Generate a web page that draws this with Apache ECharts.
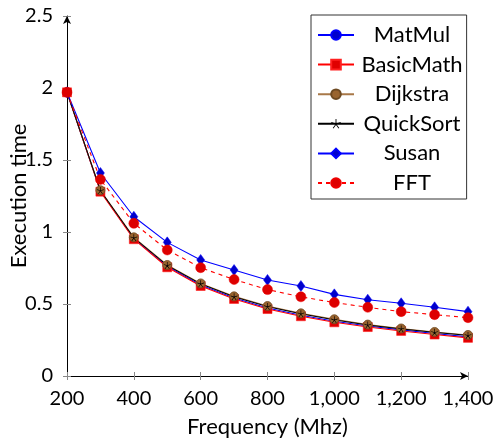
<!DOCTYPE html>
<html>
<head>
<meta charset="utf-8">
<script src="https://cdn.jsdelivr.net/npm/echarts@6/dist/echarts.min.js"></script>
<style>html,body{margin:0;padding:0;background:#fff;}#c{width:495px;height:443px;}</style>
</head>
<body>
<div id="c"></div>
<script>
const frequencies = [200,300,400,500,600,700,800,900,1000,1100,1200,1300,1400];
const matMul    = [1.97,1.285,0.955,0.762,0.632,0.542,0.472,0.422,0.380,0.347,0.320,0.295,0.272];
const basicMath = [1.97,1.280,0.950,0.755,0.625,0.535,0.465,0.415,0.373,0.340,0.313,0.288,0.265];
const dijkstra  = [1.97,1.290,0.963,0.771,0.643,0.553,0.486,0.435,0.394,0.357,0.330,0.306,0.285];
const quickSort = [1.97,1.288,0.960,0.768,0.640,0.550,0.482,0.432,0.390,0.354,0.327,0.303,0.282];
const susan     = [1.97,1.410,1.106,0.928,0.806,0.736,0.667,0.625,0.567,0.530,0.505,0.477,0.447];
const fft       = [1.97,1.365,1.060,0.875,0.752,0.670,0.600,0.550,0.510,0.477,0.447,0.426,0.405];
const seriesNames = ['MatMul','BasicMath','Dijkstra','QuickSort','Susan','FFT'];
const yTicks = [0,0.5,1,1.5,2,2.5];

const FONT = 'Lato';
function pairs(vals){ return frequencies.map((f,i)=>[f,vals[i]]); }

// asterisk star path (5 spokes)
function starPath(){
  let d = '';
  const w = 0.09;
  for (let k=0;k<5;k++){
    const a = -Math.PI/2 + k*2*Math.PI/5;
    const cx = Math.cos(a), cy = Math.sin(a);
    const px = -Math.sin(a)*w, py = Math.cos(a)*w;
    const pts = [[px,py],[cx+px,cy+py],[cx-px,cy-py],[-px,-py]];
    d += 'M' + pts.map(p=>(p[0]*10+10).toFixed(2)+' '+(p[1]*10+10).toFixed(2)).join(' L') + ' Z ';
  }
  return 'path://' + d;
}

const chart = echarts.init(document.getElementById('c'), null, {renderer:'canvas'});
const base = {type:'line', smooth:false, showSymbol:true, animation:false};
chart.setOption({
  animation:false,
  grid:{left:67, right:27, top:16, bottom:67, containLabel:false, outerBoundsMode:'none'},
  xAxis:[{
    type:'value', min:200, max:1400, interval:200,
    name:'Frequency (Mhz)', nameLocation:'middle', nameGap:40, nameMoveOverlap:false,
    nameTextStyle:{fontFamily:FONT, fontSize:22, color:'#000'},
    axisLine:{show:true, lineStyle:{color:'#000', width:1}, symbol:['none','arrow'], symbolSize:[6,8]},
    axisTick:{show:true, inside:false, length:4, lineStyle:{color:'#888'}},
    axisLabel:{fontFamily:FONT, fontSize:20, color:'#000', margin:13,
      formatter:v=>v.toLocaleString('en-US')},
    splitLine:{show:false}
  },{
    type:'value', min:200, max:1400, interval:200, position:'bottom',
    axisLine:{show:false}, axisLabel:{show:false}, splitLine:{show:false},
    axisTick:{show:true, inside:true, length:4, lineStyle:{color:'#888'}}
  }],
  yAxis:[{
    type:'value', min:yTicks[0], max:yTicks[yTicks.length-1], interval:0.5,
    name:'Execution time', nameLocation:'middle', nameGap:37, nameMoveOverlap:false,
    nameTextStyle:{fontFamily:FONT, fontSize:22, color:'#000'},
    axisLine:{show:true, lineStyle:{color:'#000', width:1}, symbol:['none','arrow'], symbolSize:[6,8]},
    axisTick:{show:true, inside:false, length:4, lineStyle:{color:'#888'}},
    axisLabel:{fontFamily:FONT, fontSize:20, color:'#000', margin:14},
    splitLine:{show:false}
  },{
    type:'value', min:0, max:2.5, interval:0.5, position:'left',
    axisLine:{show:false}, axisLabel:{show:false}, splitLine:{show:false},
    axisTick:{show:true, inside:true, length:4, lineStyle:{color:'#888'}}
  }],
  legend:{
    orient:'vertical', left:311, top:15,
    padding:[9,4,5,6], itemGap:7.6, itemWidth:36, itemHeight:12,
    backgroundColor:'#fff', borderColor:'#333', borderWidth:1,
    selectedMode:false,
    data:seriesNames,
    formatter:n=>'{a|'+n+'}',
    textStyle:{fontFamily:FONT, fontSize:22, color:'#000',
      rich:{a:{width:106, align:'center', fontFamily:FONT, fontSize:22, color:'#000'}}},
    itemTextGap:2
  },
  series:[
    Object.assign({}, base, {name:'MatMul', data:pairs(matMul), symbol:'circle', symbolSize:8,
      lineStyle:{color:'#0000ff', width:1.1}, itemStyle:{color:'#0000cc', borderColor:'#0000ff', borderWidth:0.6}}),
    Object.assign({}, base, {name:'BasicMath', data:pairs(basicMath), symbol:'rect', symbolSize:9,
      lineStyle:{color:'#ff0000', width:1.1}, itemStyle:{color:'#e00000', borderColor:'#ff2020', borderWidth:0.6}}),
    Object.assign({}, base, {name:'Dijkstra', data:pairs(dijkstra), symbol:'circle', symbolSize:9,
      lineStyle:{color:'#a87848', width:1.1}, itemStyle:{color:'#99642f', borderColor:'#6e4a22', borderWidth:0.8}}),
    Object.assign({}, base, {name:'QuickSort', data:pairs(quickSort), symbol:starPath(), symbolSize:7,
      lineStyle:{color:'#000', width:1}, itemStyle:{color:'#000'}}),
    Object.assign({}, base, {name:'Susan', data:pairs(susan), symbol:'diamond', symbolSize:[8,11],
      lineStyle:{color:'#0000ff', width:1.1}, itemStyle:{color:'#0000cc', borderColor:'#0000ff', borderWidth:0.5}}),
    Object.assign({}, base, {name:'FFT', data:pairs(fft), symbol:'circle', symbolSize:10,
      lineStyle:{color:'#ff0000', width:1.1, type:[4,4]}, itemStyle:{color:'#dd0000', borderColor:'#ee0000', borderWidth:0.5}})
  ]
});
</script>
</body>
</html>
